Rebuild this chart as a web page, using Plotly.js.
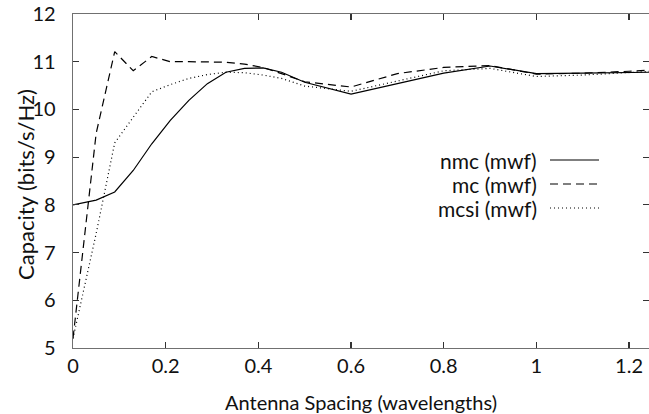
<!DOCTYPE html>
<html><head><meta charset="utf-8">
<script src="https://cdn.plot.ly/plotly-3.0.1.min.js"></script>
<style>html,body{margin:0;padding:0;background:#fff;overflow:hidden}</style>
</head><body><div id="chart" style="width:649px;height:414px"></div>
<script>
const spacing = [0, 0.05, 0.09, 0.13, 0.17, 0.21, 0.25, 0.29, 0.33, 0.37, 0.41, 0.45, 0.5, 0.6, 0.7, 0.8, 0.9, 1.0, 1.1, 1.2, 1.25];
const nmc  = [8.0, 8.1, 8.27, 8.72, 9.28, 9.77, 10.19, 10.54, 10.78, 10.86, 10.87, 10.78, 10.57, 10.32, 10.54, 10.76, 10.91, 10.75, 10.76, 10.77, 10.78];
const mc   = [5.2, 9.5, 11.21, 10.81, 11.11, 11.0, 11.0, 11.0, 10.99, 10.95, 10.88, 10.75, 10.58, 10.47, 10.75, 10.88, 10.92, 10.74, 10.76, 10.8, 10.83];
const mcsi = [5.2, 7.4, 9.3, 9.83, 10.37, 10.52, 10.65, 10.73, 10.78, 10.77, 10.72, 10.65, 10.49, 10.38, 10.6, 10.81, 10.86, 10.69, 10.72, 10.77, 10.8];
const seriesNames = ["nmc (mwf)", "mc (mwf)", "mcsi (mwf)"];
const dashes = ["solid", "8px,5px", "1px,3px"];
const xTicks = [0, 0.2, 0.4, 0.6, 0.8, 1, 1.2];
const yTicks = [5, 6, 7, 8, 9, 10, 11, 12];
const xTitle = "Antenna Spacing (wavelengths)";
const yTitle = "Capacity (bits/s/Hz)";

const font = "Lato, 'Open Sans', sans-serif";
const data = [nmc, mc, mcsi].map((ys, i) => ({
  x: spacing, y: ys, type: "scatter", mode: "lines", name: seriesNames[i],
  line: {color: "#000", width: 1.2, dash: dashes[i]}, showlegend: false, hoverinfo: "skip"
}));

const axisCommon = {
  showgrid: false, zeroline: false, showline: true, linecolor: "#707070", linewidth: 1.3,
  mirror: "allticks", ticks: "inside", ticklen: 6, tickcolor: "#333", tickwidth: 1.2,
  tickfont: {family: font, size: 20, color: "#111"}
};

const annotations = [];
const shapes = [];
seriesNames.forEach((n, i) => {
  const yp = 160 + i * 24;
  annotations.push({xref: "paper", yref: "paper", x: (539 - 73) / 576, y: 1 - (yp - 14) / 334,
    xanchor: "right", yanchor: "middle", text: n, showarrow: false,
    font: {family: font, size: 21, color: "#111"}});
  shapes.push({type: "line", xref: "paper", yref: "paper",
    x0: (550 - 73) / 576, x1: (599 - 73) / 576, y0: 1 - (yp - 14) / 334, y1: 1 - (yp - 14) / 334,
    line: {color: "#000", width: 1.2, dash: dashes[i]}});
});
annotations.push({xref: "paper", yref: "paper", x: (25 - 73) / 576, y: 1 - (185 - 14) / 334,
  xanchor: "center", yanchor: "middle", textangle: -90, text: yTitle, showarrow: false,
  font: {family: font, size: 22, color: "#111"}});

const layout = {
  width: 649, height: 414, margin: {l: 73, r: 0, t: 14, b: 66},
  paper_bgcolor: "#fff", plot_bgcolor: "#fff",
  xaxis: Object.assign({}, axisCommon, {range: [0, 1.243], tickvals: xTicks, ticktext: xTicks.map(String),
    title: {text: xTitle, font: {family: font, size: 20, color: "#111"}, standoff: 20}}),
  yaxis: Object.assign({}, axisCommon, {range: [5, 12], tickvals: yTicks, ticktext: yTicks.map(String),
    ticklabelstandoff: 12}),
  annotations: annotations, shapes: shapes, showlegend: false
};
Plotly.newPlot("chart", data, layout, {staticPlot: true, displayModeBar: false});
</script></body></html>
